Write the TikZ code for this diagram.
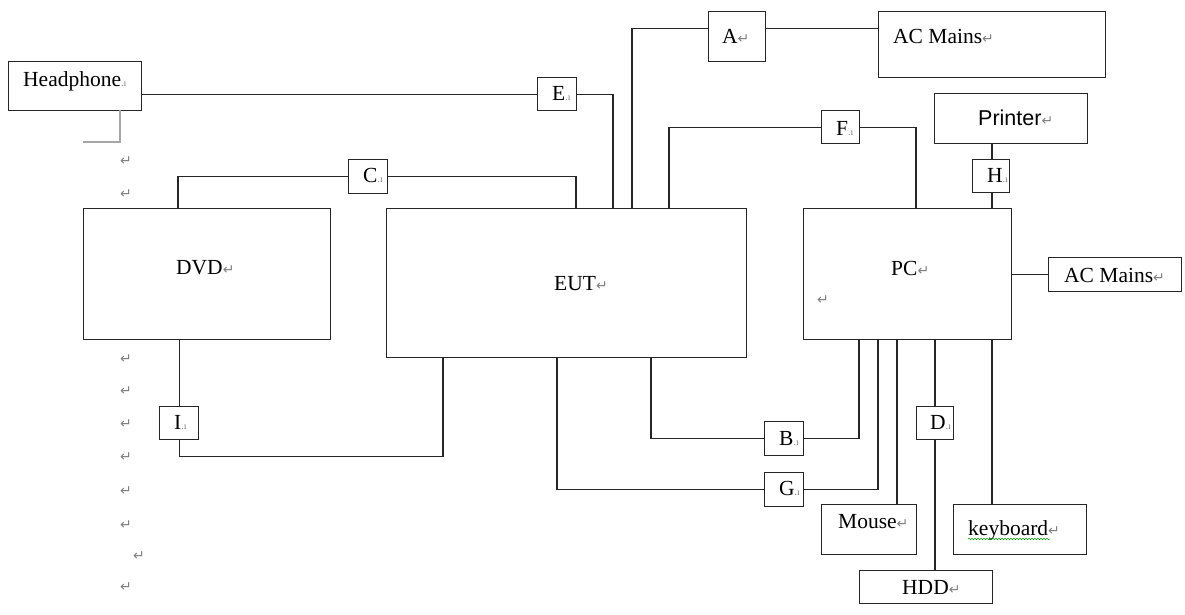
\documentclass[tikz,border=0pt]{standalone}
\usepackage{fontspec}
\setmainfont{Liberation Serif}
\newfontfamily\arialf{Liberation Sans}
\newfontfamily\dejavu{DejaVu Sans}
\usetikzlibrary{decorations.pathmorphing}
\newcommand{\rmk}{{\color{black!50}\dejavu\fontsize{14}{14}\selectfont ↵}}
\newcommand{\cmk}{{\fontsize{10}{10}\selectfont\color{black!50}.ı}}
\tikzset{
  box/.style={draw=black!85, line width=1.4pt, inner sep=0pt, anchor=north west},
  wire/.style={draw=black!85, line width=1.4pt},
  lbl/.style={anchor=base west, inner sep=0pt, font=\fontsize{21.5}{25}\selectfont},
  retm/.style={anchor=center, inner sep=0pt, text=black!50, font=\dejavu\fontsize{14}{14}\selectfont},
}
\begin{document}
\begin{tikzpicture}[x=1pt,y=-1pt]
\useasboundingbox (0,0) rectangle (1185,614);
% boxes
\node[box, minimum width=133pt, minimum height=49pt] (hp) at (8,61) {};
\node[box, minimum width=227pt, minimum height=66pt] (acm1) at (878,11) {};
\node[box, minimum width=57pt, minimum height=50pt] (A) at (708,11) {};
\node[box, minimum width=39pt, minimum height=33pt] (E) at (537,77) {};
\node[box, minimum width=39pt, minimum height=34pt] (C) at (348,159) {};
\node[box, minimum width=38pt, minimum height=33pt] (F) at (821,110) {};
\node[box, minimum width=153pt, minimum height=50pt] (prn) at (934,93) {};
\node[box, minimum width=37pt, minimum height=33pt] (H) at (972,159) {};
\node[box, minimum width=247pt, minimum height=131pt] (dvd) at (83,208) {};
\node[box, minimum width=360pt, minimum height=149pt] (eut) at (386,208) {};
\node[box, minimum width=208pt, minimum height=131pt] (pc) at (803,208) {};
\node[box, minimum width=133pt, minimum height=34pt] (acm2) at (1048,257) {};
\node[box, minimum width=39pt, minimum height=33pt] (I) at (159,406) {};
\node[box, minimum width=39pt, minimum height=34pt] (B) at (764,421) {};
\node[box, minimum width=39pt, minimum height=34pt] (G) at (764,472) {};
\node[box, minimum width=37pt, minimum height=33pt] (D) at (916,406) {};
\node[box, minimum width=95pt, minimum height=50pt] (mouse) at (821,504) {};
\node[box, minimum width=133pt, minimum height=50pt] (kbd) at (953,504) {};
\node[box, minimum width=133pt, minimum height=33pt] (hdd) at (859,570) {};
% attachment points
\coordinate (eutC) at (576,208);
\coordinate (eutE) at (613,208);
\coordinate (eutA) at (632,208);
\coordinate (eutF) at (669,208);
\coordinate (eutI) at (443,357);
\coordinate (eutG) at (557,357);
\coordinate (eutB) at (651,357);
\coordinate (dvdC) at (178,208);
\coordinate (pcF) at (916,208);
\coordinate (pcH) at (992,208);
\coordinate (pcB) at (859,339);
\coordinate (pcG) at (878,339);
\coordinate (pcM) at (897,339);
\coordinate (pcD) at (935,339);
\coordinate (pcK) at (992,339);
\coordinate (hpG) at (120,110);
\coordinate (hpG2) at (83,142);
% wires
\draw[wire] (hp.east |- E.west) -- (E.west);
\draw[wire] (E.east) -| (eutE);
\draw[wire] ([yshift=8pt]A.west) -| (eutA);
\draw[wire] ([yshift=8pt]A.east) -- ([yshift=8pt]A.east -| acm1.west);
\draw[wire] (dvdC) |- (C.west);
\draw[wire] (C.east) -| (eutC);
\draw[wire] (eutF) |- (F.west);
\draw[wire] (F.east) -| (pcF);
\draw[wire] (pcH) -- (pcH |- H.south);
\draw[wire] (pcH |- H.north) -- (pcH |- prn.south);
\draw[wire] (pc.east |- acm2.west) -- (acm2.west);
\draw[wire] (I.north) -- (I.north |- dvd.south);
\draw[wire] (I.south) -- ++(0,16) -| (eutI);
\draw[wire] (eutB) |- (B.west);
\draw[wire] (B.east) -| (pcB);
\draw[wire] (eutG) |- (G.west);
\draw[wire] (G.east) -| (pcG);
\draw[wire] (pcM) -- (pcM |- mouse.north);
\draw[wire] (pcD) -- (pcD |- D.north);
\draw[wire] (pcD |- D.south) -- (pcD |- hdd.north);
\draw[wire] (pcK) -- (pcK |- kbd.north);
\draw[black!35, line width=1.2pt] (hpG) |- (hpG2);
% labels
\node[lbl] (thp) at (23,86) {Headphone\cmk};
\node[lbl] (tacm1) at (893,43) {AC Mains\rmk};
\node[lbl] (tA) at (722,43) {A\rmk};
\node[lbl] (tE) at (552,100) {E\cmk};
\node[lbl] (tC) at (363,182) {C\cmk};
\node[lbl] (tF) at (836,135) {F\cmk};
\node[lbl] (tprn) at (978,125) {\arialf Printer\rmk};
\node[lbl] (tH) at (987,182) {H\cmk};
\node[lbl] (tdvd) at (176,274) {DVD\rmk};
\node[lbl] (teut) at (554,290) {EUT\rmk};
\node[lbl] (tpc) at (891,275) {PC\rmk};
\node[retm] (rpc) at (823,300) {↵};
\node[lbl] (tacm2) at (1064,282) {AC Mains\rmk};
\node[lbl] (tI) at (174,429) {I\cmk};
\node[lbl] (tB) at (779,445) {B\cmk};
\node[lbl] (tG) at (779,495) {G\cmk};
\node[lbl] (tD) at (930,429) {D\cmk};
\node[lbl] (tmouse) at (838,528) {Mouse\rmk};
\node[lbl] (tkbd) at (968,535) {keyboard\rmk};
\node[lbl] (thdd) at (902,594) {HDD\rmk};
\draw[green!60!black, line width=0.5pt, decorate, decoration={snake, amplitude=0.8pt, segment length=3pt}] ([yshift=-4pt]tkbd.base west) -- ++(82,0);
% left column paragraph marks
\foreach \yy [count=\i] in {161,194,359,391,424,457,491,525,587}
  \node[retm] (r\i) at (126,\yy) {↵};
\node[retm] (r10) at (139,556) {↵};
\end{tikzpicture}
\end{document}
